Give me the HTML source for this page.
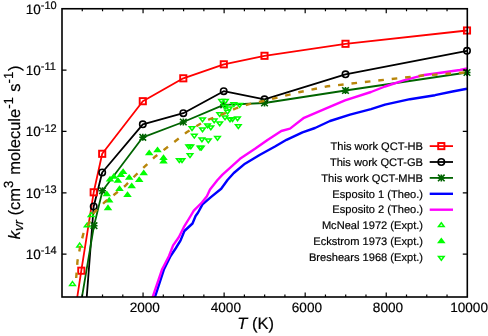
<!DOCTYPE html>
<html><head><meta charset="utf-8"><title>k_vr vs T</title>
<style>html,body{margin:0;padding:0;background:#fff;}svg{display:block;}text{font-family:"Liberation Sans",sans-serif;fill:#000;text-rendering:geometricPrecision;}</style></head><body>
<svg width="488" height="336" viewBox="0 0 488 336">
<rect x="0" y="0" width="488" height="336" fill="#ffffff"/>
<defs><clipPath id="c"><rect x="62.0" y="8.75" width="405.3" height="288.25"/></clipPath><clipPath id="ca"><rect x="62.0" y="8.75" width="37.5" height="288.25"/></clipPath><clipPath id="cb"><rect x="99.5" y="8.75" width="367.8" height="288.25"/></clipPath></defs>
<g clip-path="url(#c)" fill="none" stroke-linejoin="round">
<polyline points="77.2,297.5 81.3,270.7 93.7,192.3 102.2,153.8 142.8,101.2 183.3,78.3 223.8,64.3 264.5,55.8 345.5,43.8 467.0,30.5" stroke="#ff0000" stroke-width="1.8"/>
<polyline points="86.7,297.5 93.7,206.5 102.2,172.5 142.8,124.3 183.3,113.2 223.7,91.2 264.5,99.3 345.5,74.3 467.0,50.8" stroke="#000000" stroke-width="1.8"/>
<polyline points="81.9,297.5 94.0,225.7 102.5,190.7 142.8,137.3 183.3,122.0 223.7,104.8 264.5,103.0 345.5,90.5 467.0,72.5" stroke="#006400" stroke-width="1.8"/>
<polyline points="154.8,297.5 163.8,269.8 170.6,256.0 175.6,248.5 180.6,240.4 184.4,231.0 192.5,223.5 195.6,216.0 198.1,212.5 202.5,204.4 211.2,196.9 221.2,188.8 227.5,180.0 233.8,173.0 245.0,163.7 260.0,154.7 275.0,146.5 286.5,139.8 302.5,132.3 315.0,128.0 330.0,121.0 350.0,114.7 371.0,109.1 385.0,104.6 410.0,99.2 435.0,95.2 452.5,91.5 467.0,88.8" stroke="#0000ff" stroke-width="2.4"/>
<polyline points="152.5,297.5 161.9,269.8 169.0,256.0 173.1,245.4 178.8,237.2 183.8,227.2 190.6,216.0 193.8,210.6 201.9,202.5 206.9,196.2 210.0,189.4 217.5,180.0 222.5,174.6 240.0,158.8 255.0,148.8 267.5,140.0 281.3,131.0 290.0,128.6 304.0,117.8 325.0,108.8 345.0,100.3 371.0,92.0 385.0,86.5 403.8,80.3 422.5,75.3 442.5,72.5 460.0,70.0 467.0,68.5" stroke="#ff00ff" stroke-width="2.4"/>
</g>
<g>
<rect x="78.20" y="267.60" width="6.2" height="6.2" fill="none" stroke="#ff0000" stroke-width="1.9"/>
<rect x="90.60" y="189.20" width="6.2" height="6.2" fill="none" stroke="#ff0000" stroke-width="1.9"/>
<rect x="99.10" y="150.70" width="6.2" height="6.2" fill="none" stroke="#ff0000" stroke-width="1.9"/>
<rect x="139.70" y="98.10" width="6.2" height="6.2" fill="none" stroke="#ff0000" stroke-width="1.9"/>
<rect x="180.20" y="75.20" width="6.2" height="6.2" fill="none" stroke="#ff0000" stroke-width="1.9"/>
<rect x="220.70" y="61.20" width="6.2" height="6.2" fill="none" stroke="#ff0000" stroke-width="1.9"/>
<rect x="261.40" y="52.70" width="6.2" height="6.2" fill="none" stroke="#ff0000" stroke-width="1.9"/>
<rect x="342.40" y="40.70" width="6.2" height="6.2" fill="none" stroke="#ff0000" stroke-width="1.9"/>
<rect x="463.90" y="27.40" width="6.2" height="6.2" fill="none" stroke="#ff0000" stroke-width="1.9"/>
<circle cx="93.70" cy="206.50" r="3.2" fill="none" stroke="#000000" stroke-width="1.6"/>
<circle cx="102.20" cy="172.50" r="3.2" fill="none" stroke="#000000" stroke-width="1.6"/>
<circle cx="142.80" cy="124.30" r="3.2" fill="none" stroke="#000000" stroke-width="1.6"/>
<circle cx="183.30" cy="113.20" r="3.2" fill="none" stroke="#000000" stroke-width="1.6"/>
<circle cx="223.70" cy="91.20" r="3.2" fill="none" stroke="#000000" stroke-width="1.6"/>
<circle cx="264.50" cy="99.30" r="3.2" fill="none" stroke="#000000" stroke-width="1.6"/>
<circle cx="345.50" cy="74.30" r="3.2" fill="none" stroke="#000000" stroke-width="1.6"/>
<circle cx="467.00" cy="50.80" r="3.2" fill="none" stroke="#000000" stroke-width="1.6"/>
<path d="M90.50,225.70H97.50M94.00,222.20V229.20M90.70,222.40L97.30,229.00M90.70,229.00L97.30,222.40" stroke="#006400" stroke-width="1.6" fill="none"/>
<path d="M99.00,190.70H106.00M102.50,187.20V194.20M99.20,187.40L105.80,194.00M99.20,194.00L105.80,187.40" stroke="#006400" stroke-width="1.6" fill="none"/>
<path d="M139.30,137.30H146.30M142.80,133.80V140.80M139.50,134.00L146.10,140.60M139.50,140.60L146.10,134.00" stroke="#006400" stroke-width="1.6" fill="none"/>
<path d="M179.80,122.00H186.80M183.30,118.50V125.50M180.00,118.70L186.60,125.30M180.00,125.30L186.60,118.70" stroke="#006400" stroke-width="1.6" fill="none"/>
<path d="M220.20,104.80H227.20M223.70,101.30V108.30M220.40,101.50L227.00,108.10M220.40,108.10L227.00,101.50" stroke="#006400" stroke-width="1.6" fill="none"/>
<path d="M261.00,103.00H268.00M264.50,99.50V106.50M261.20,99.70L267.80,106.30M261.20,106.30L267.80,99.70" stroke="#006400" stroke-width="1.6" fill="none"/>
<path d="M342.00,90.50H349.00M345.50,87.00V94.00M342.20,87.20L348.80,93.80M342.20,93.80L348.80,87.20" stroke="#006400" stroke-width="1.6" fill="none"/>
<path d="M463.50,72.50H470.50M467.00,69.00V76.00M463.70,69.20L470.30,75.80M463.70,75.80L470.30,69.20" stroke="#006400" stroke-width="1.6" fill="none"/>
<polygon points="72.50,281.60 75.30,285.40 69.70,285.40" fill="none" stroke="#00ff00" stroke-width="1.5"/>
<polygon points="79.70,243.10 82.50,246.90 76.90,246.90" fill="none" stroke="#00ff00" stroke-width="1.5"/>
<polygon points="87.20,223.00 90.00,226.80 84.40,226.80" fill="none" stroke="#00ff00" stroke-width="1.5"/>
<polygon points="91.20,212.60 94.00,216.40 88.40,216.40" fill="none" stroke="#00ff00" stroke-width="1.5"/>
<polygon points="106.80,191.70 109.60,195.50 104.00,195.50" fill="#00ff00" stroke="#00ff00" stroke-width="1.5"/>
<polygon points="109.20,198.00 112.00,201.80 106.40,201.80" fill="#00ff00" stroke="#00ff00" stroke-width="1.5"/>
<polygon points="108.00,205.60 110.80,209.40 105.20,209.40" fill="#00ff00" stroke="#00ff00" stroke-width="1.5"/>
<polygon points="119.50,186.50 122.30,190.30 116.70,190.30" fill="#00ff00" stroke="#00ff00" stroke-width="1.5"/>
<polygon points="127.50,192.50 130.30,196.30 124.70,196.30" fill="#00ff00" stroke="#00ff00" stroke-width="1.5"/>
<polygon points="131.70,183.80 134.50,187.60 128.90,187.60" fill="#00ff00" stroke="#00ff00" stroke-width="1.5"/>
<polygon points="123.10,169.50 125.90,173.30 120.30,173.30" fill="#00ff00" stroke="#00ff00" stroke-width="1.5"/>
<polygon points="120.80,172.50 123.60,176.30 118.00,176.30" fill="#00ff00" stroke="#00ff00" stroke-width="1.5"/>
<polygon points="113.80,174.30 116.60,178.10 111.00,178.10" fill="#00ff00" stroke="#00ff00" stroke-width="1.5"/>
<polygon points="110.00,177.00 112.80,180.80 107.20,180.80" fill="#00ff00" stroke="#00ff00" stroke-width="1.5"/>
<polygon points="117.90,178.30 120.70,182.10 115.10,182.10" fill="#00ff00" stroke="#00ff00" stroke-width="1.5"/>
<polygon points="129.20,175.30 132.00,179.10 126.40,179.10" fill="#00ff00" stroke="#00ff00" stroke-width="1.5"/>
<polygon points="139.20,177.50 142.00,181.30 136.40,181.30" fill="#00ff00" stroke="#00ff00" stroke-width="1.5"/>
<polygon points="143.70,170.80 146.50,174.60 140.90,174.60" fill="#00ff00" stroke="#00ff00" stroke-width="1.5"/>
<polygon points="149.20,150.80 152.00,154.60 146.40,154.60" fill="#00ff00" stroke="#00ff00" stroke-width="1.5"/>
<polygon points="157.50,147.80 160.30,151.60 154.70,151.60" fill="#00ff00" stroke="#00ff00" stroke-width="1.5"/>
<polygon points="163.50,155.50 166.30,159.30 160.70,159.30" fill="#00ff00" stroke="#00ff00" stroke-width="1.5"/>
<polygon points="163.50,159.00 166.30,162.80 160.70,162.80" fill="#00ff00" stroke="#00ff00" stroke-width="1.5"/>
<polygon points="221.60,103.40 224.40,99.60 218.80,99.60" fill="none" stroke="#00ff00" stroke-width="1.5"/>
<polygon points="225.40,103.40 228.20,99.60 222.60,99.60" fill="none" stroke="#00ff00" stroke-width="1.5"/>
<polygon points="233.80,106.60 236.60,102.80 231.00,102.80" fill="none" stroke="#00ff00" stroke-width="1.5"/>
<polygon points="239.60,107.30 242.40,103.50 236.80,103.50" fill="none" stroke="#00ff00" stroke-width="1.5"/>
<polygon points="225.00,109.00 227.80,105.20 222.20,105.20" fill="none" stroke="#00ff00" stroke-width="1.5"/>
<polygon points="229.20,110.70 232.00,106.90 226.40,106.90" fill="none" stroke="#00ff00" stroke-width="1.5"/>
<polygon points="227.50,114.00 230.30,110.20 224.70,110.20" fill="none" stroke="#00ff00" stroke-width="1.5"/>
<polygon points="219.70,116.50 222.50,112.70 216.90,112.70" fill="none" stroke="#00ff00" stroke-width="1.5"/>
<polygon points="225.00,119.80 227.80,116.00 222.20,116.00" fill="none" stroke="#00ff00" stroke-width="1.5"/>
<polygon points="230.00,121.80 232.80,118.00 227.20,118.00" fill="none" stroke="#00ff00" stroke-width="1.5"/>
<polygon points="232.50,121.50 235.30,117.70 229.70,117.70" fill="none" stroke="#00ff00" stroke-width="1.5"/>
<polygon points="237.50,120.70 240.30,116.90 234.70,116.90" fill="none" stroke="#00ff00" stroke-width="1.5"/>
<polygon points="202.50,121.80 205.30,118.00 199.70,118.00" fill="none" stroke="#00ff00" stroke-width="1.5"/>
<polygon points="214.20,122.80 217.00,119.00 211.40,119.00" fill="none" stroke="#00ff00" stroke-width="1.5"/>
<polygon points="219.70,125.70 222.50,121.90 216.90,121.90" fill="none" stroke="#00ff00" stroke-width="1.5"/>
<polygon points="238.30,128.50 241.10,124.70 235.50,124.70" fill="none" stroke="#00ff00" stroke-width="1.5"/>
<polygon points="207.50,127.80 210.30,124.00 204.70,124.00" fill="none" stroke="#00ff00" stroke-width="1.5"/>
<polygon points="210.80,129.80 213.60,126.00 208.00,126.00" fill="none" stroke="#00ff00" stroke-width="1.5"/>
<polygon points="192.00,130.50 194.80,126.70 189.20,126.70" fill="none" stroke="#00ff00" stroke-width="1.5"/>
<polygon points="202.50,131.80 205.30,128.00 199.70,128.00" fill="none" stroke="#00ff00" stroke-width="1.5"/>
<polygon points="194.30,138.10 197.10,134.30 191.50,134.30" fill="none" stroke="#00ff00" stroke-width="1.5"/>
<polygon points="201.90,141.80 204.70,138.00 199.10,138.00" fill="none" stroke="#00ff00" stroke-width="1.5"/>
<polygon points="217.50,140.30 220.30,136.50 214.70,136.50" fill="none" stroke="#00ff00" stroke-width="1.5"/>
<polygon points="208.30,142.80 211.10,139.00 205.50,139.00" fill="none" stroke="#00ff00" stroke-width="1.5"/>
<polygon points="188.70,148.80 191.50,145.00 185.90,145.00" fill="none" stroke="#00ff00" stroke-width="1.5"/>
<polygon points="190.80,148.80 193.60,145.00 188.00,145.00" fill="none" stroke="#00ff00" stroke-width="1.5"/>
<polygon points="200.00,150.00 202.80,146.20 197.20,146.20" fill="none" stroke="#00ff00" stroke-width="1.5"/>
<polygon points="201.30,150.00 204.10,146.20 198.50,146.20" fill="none" stroke="#00ff00" stroke-width="1.5"/>
<polygon points="190.00,157.50 192.80,153.70 187.20,153.70" fill="none" stroke="#00ff00" stroke-width="1.5"/>
<polygon points="179.30,162.50 182.10,158.70 176.50,158.70" fill="none" stroke="#00ff00" stroke-width="1.5"/>
<polygon points="182.00,162.50 184.80,158.70 179.20,158.70" fill="none" stroke="#00ff00" stroke-width="1.5"/>
</g>
<polyline clip-path="url(#ca)" points="76.2,278.0 77.5,261.0 80.5,245.0 83.3,234.0 94.2,212.5 105.0,201.8 115.0,194.0 125.0,186.0 135.8,175.0 155.0,156.7 175.8,140.8 186.7,132.3 200.0,124.0 210.0,119.0 223.3,114.0 236.7,108.0 248.3,104.3 265.0,100.7 300.0,92.0 327.5,86.3 371.0,81.3 397.5,78.3 422.5,75.5 465.0,72.5" fill="none" stroke="#b8860b" stroke-width="2.4" stroke-dasharray="5.6,7.9" stroke-dashoffset="0.3"/>
<polyline clip-path="url(#cb)" points="76.2,278.0 77.5,261.0 80.5,245.0 83.3,234.0 94.2,212.5 105.0,201.8 115.0,194.0 125.0,186.0 135.8,175.0 155.0,156.7 175.8,140.8 186.7,132.3 200.0,124.0 210.0,119.0 223.3,114.0 236.7,108.0 248.3,104.3 265.0,100.7 300.0,92.0 327.5,86.3 371.0,81.3 397.5,78.3 422.5,75.5 465.0,72.5" fill="none" stroke="#b8860b" stroke-width="2.4" stroke-dasharray="5.6,7.9" stroke-dashoffset="-0.2"/>
<rect x="62.0" y="8.75" width="405.3" height="288.25" fill="none" stroke="#000" stroke-width="1.6"/>
<path d="M62.0,70.10h4.5M467.3,70.10h-4.5M62.0,131.45h4.5M467.3,131.45h-4.5M62.0,192.80h4.5M467.3,192.80h-4.5M62.0,254.15h4.5M467.3,254.15h-4.5M82.27,297.0v-2.4M82.27,8.75v2.4M102.53,297.0v-2.4M102.53,8.75v2.4M122.80,297.0v-2.4M122.80,8.75v2.4M143.06,297.0v-4.5M143.06,8.75v4.5M163.32,297.0v-2.4M163.32,8.75v2.4M183.59,297.0v-2.4M183.59,8.75v2.4M203.86,297.0v-2.4M203.86,8.75v2.4M224.12,297.0v-4.5M224.12,8.75v4.5M244.39,297.0v-2.4M244.39,8.75v2.4M264.65,297.0v-2.4M264.65,8.75v2.4M284.92,297.0v-2.4M284.92,8.75v2.4M305.18,297.0v-4.5M305.18,8.75v4.5M325.45,297.0v-2.4M325.45,8.75v2.4M345.71,297.0v-2.4M345.71,8.75v2.4M365.98,297.0v-2.4M365.98,8.75v2.4M386.24,297.0v-4.5M386.24,8.75v4.5M406.51,297.0v-2.4M406.51,8.75v2.4M426.77,297.0v-2.4M426.77,8.75v2.4M447.04,297.0v-2.4M447.04,8.75v2.4" stroke="#000" stroke-width="1.2" fill="none"/>
<g style="will-change:transform" opacity="0.999" stroke="#000" stroke-width="0.2">
<text x="25.7" y="13.65" font-size="13.5">10<tspan font-size="11" dy="-4.6">-10</tspan></text>
<text x="25.7" y="75.00" font-size="13.5">10<tspan font-size="11" dy="-4.6">-11</tspan></text>
<text x="25.7" y="136.35" font-size="13.5">10<tspan font-size="11" dy="-4.6">-12</tspan></text>
<text x="25.7" y="197.70" font-size="13.5">10<tspan font-size="11" dy="-4.6">-13</tspan></text>
<text x="25.7" y="259.05" font-size="13.5">10<tspan font-size="11" dy="-4.6">-14</tspan></text>
<text x="144.81" y="312.3" font-size="13.6" text-anchor="middle">2000</text>
<text x="225.87" y="312.3" font-size="13.6" text-anchor="middle">4000</text>
<text x="306.93" y="312.3" font-size="13.6" text-anchor="middle">6000</text>
<text x="387.99" y="312.3" font-size="13.6" text-anchor="middle">8000</text>
<text x="469.05" y="312.3" font-size="13.6" text-anchor="middle">10000</text>
<text x="237.3" y="328.9" font-size="16.5"><tspan font-style="italic">T</tspan> (K)</text>
<text transform="translate(19.8,239.3) rotate(-90)" font-size="16.5"><tspan font-style="italic">k</tspan><tspan font-style="italic" font-size="13.2" dy="3.5">vr</tspan><tspan dy="-3.5"> (cm</tspan><tspan font-size="13.2" dy="-7.3">3</tspan><tspan dy="7.3" dx="1.2"> molecule</tspan><tspan font-size="13.2" dy="-7.3">-1</tspan><tspan dy="7.3" dx="0.8"> s</tspan><tspan font-size="13.2" dy="-7.3">-1</tspan><tspan dy="7.3" dx="0.8">)</tspan></text>
<text x="423" y="150.30" font-size="11.1" text-anchor="end">This work QCT-HB</text>
<text x="423" y="166.09" font-size="11.1" text-anchor="end">This work QCT-GB</text>
<text x="423" y="181.88" font-size="11.1" text-anchor="end">This work QCT-MHB</text>
<text x="423" y="197.67" font-size="11.1" text-anchor="end">Esposito 1 (Theo.)</text>
<text x="423" y="213.46" font-size="11.1" text-anchor="end">Esposito 2 (Theo.)</text>
<text x="423" y="229.25" font-size="11.1" text-anchor="end">McNeal 1972 (Expt.)</text>
<text x="423" y="245.04" font-size="11.1" text-anchor="end">Eckstrom 1973 (Expt.)</text>
<text x="423" y="260.83" font-size="11.1" text-anchor="end">Breshears 1968 (Expt.)</text>
</g>
<path d="M429.7,146.1H453.0" stroke="#ff0000" stroke-width="1.8"/><rect x="438.20" y="143.00" width="6.2" height="6.2" fill="none" stroke="#ff0000" stroke-width="1.9"/>
<path d="M429.7,162.0H453.0" stroke="#000000" stroke-width="1.8"/><circle cx="441.30" cy="162.00" r="3.2" fill="none" stroke="#000000" stroke-width="1.6"/>
<path d="M429.7,177.9H453.0" stroke="#006400" stroke-width="1.8"/><path d="M437.80,177.90H444.80M441.30,174.40V181.40M438.00,174.60L444.60,181.20M438.00,181.20L444.60,174.60" stroke="#006400" stroke-width="1.6" fill="none"/>
<path d="M429.7,193.8H453.0" stroke="#0000ff" stroke-width="2.4"/>
<path d="M429.7,209.7H453.0" stroke="#ff00ff" stroke-width="2.4"/>
<polygon points="441.30,222.80 444.10,226.60 438.50,226.60" fill="none" stroke="#00ff00" stroke-width="1.5"/>
<polygon points="441.30,238.70 444.10,242.50 438.50,242.50" fill="#00ff00" stroke="#00ff00" stroke-width="1.5"/>
<polygon points="441.30,260.20 444.10,256.40 438.50,256.40" fill="none" stroke="#00ff00" stroke-width="1.5"/>
</svg></body></html>
